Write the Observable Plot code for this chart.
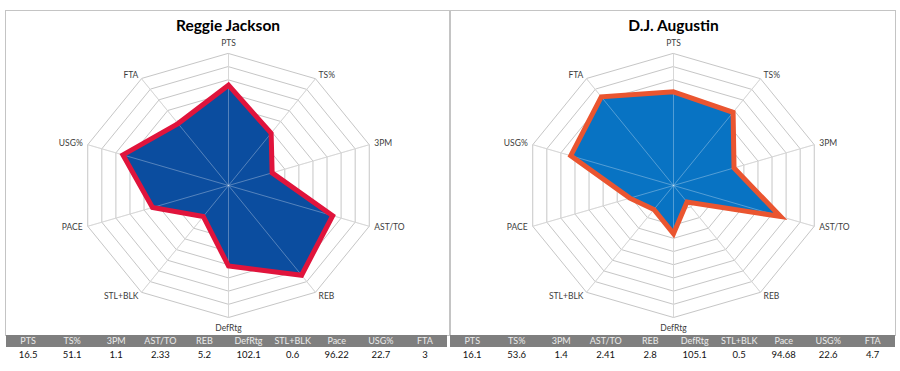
<!DOCTYPE html>
<html><head><meta charset="utf-8">
<script src="https://cdn.jsdelivr.net/npm/d3@7"></script>
<script src="https://cdn.jsdelivr.net/npm/@observablehq/plot@0.6"></script>
<style>
body{margin:0;background:#fff;font-family:Lato,"Open Sans",sans-serif;}
#root{position:relative;width:900px;height:371px;overflow:hidden;}
.panel{position:absolute;box-sizing:border-box;border:1px solid #c4c4c4;background:#fff;}
.panel svg{display:block;}
.tbl{position:absolute;display:grid;grid-template-columns:repeat(10,1fr);}
.hdr{background:#7f7f7f;color:#ececec;font-size:9px;text-align:center;height:12px;line-height:12px;}
.val{font-size:9.5px;text-align:center;color:#111;height:14px;line-height:15px;}
</style></head><body><div id="root"></div>
<script>
// Radar axes (clockwise from top)
const axes = ["PTS","TS%","3PM","AST/TO","REB","DefRtg","STL+BLK","PACE","USG%","FTA"];
const ringLevels = [0.1,0.2,0.3,0.4,0.5,0.6,0.7,0.8,0.9,1.0];
// Normalised radar values
const reggieRadar   = [0.76,0.49,0.31,0.74,0.84,0.61,0.29,0.54,0.75,0.58];
const augustinRadar = [0.71,0.685,0.43,0.76,0.155,0.365,0.225,0.31,0.73,0.83];
// Table
const tableHeaders  = ["PTS","TS%","3PM","AST/TO","REB","DefRtg","STL+BLK","Pace","USG%","FTA"];
const reggieStats   = ["16.5","51.1","1.1","2.33","5.2","102.1","0.6","96.22","22.7","3"];
const augustinStats = ["16.1","53.6","1.4","2.41","2.8","105.1","0.5","94.68","22.6","4.7"];

function radar(name, vals, fill, stroke, w, h){
  const cx = 222, cy = 174, rx = 148, ry = 132;
  const n = axes.length;
  const ang = i => 2*Math.PI*i/n;
  const pt = (i,r) => ({x: r*Math.sin(ang(i)), y: r*Math.cos(ang(i))});
  const rings = ringLevels.flatMap(l => axes.map((a,i) => ({level:l, ...pt(i,l)})));
  const spokes = axes.map((a,i) => ({label:a, i, ...pt(i,1)}));
  const labels = axes.map((a,i) => {
    const s = Math.sin(ang(i)), c = Math.cos(ang(i));
    const off = (i % 5 === 0) ? 10.5 : 4.5;
    return {label:a, i, x: s + s*5.3/rx, y: c + c*off/ry};
  });
  const shape = vals.map((v,i) => pt(i,v));
  const lab = {x:"x", y:"y", text:"label", fontSize:8.5, fill:"#3c3c3c"};
  return Plot.plot({
    width:w, height:h, margin:0,
    x:{domain:[-cx/rx,(w-cx)/rx], axis:null},
    y:{domain:[-(h-cy)/ry, cy/ry], axis:null},
    style:{fontFamily:"Lato, sans-serif", background:"transparent", overflow:"visible"},
    marks:[
      Plot.line(rings, {x:"x", y:"y", z:"level", curve:"linear-closed", stroke:"#c6c6c6", strokeWidth:1}),
      Plot.link(spokes, {x1:d=>0, y1:d=>0, x2:"x", y2:"y", stroke:"#c6c6c6", strokeWidth:1}),
      Plot.line(shape, {x:"x", y:"y", curve:"linear-closed", fill, stroke:"none"}),
      Plot.link(spokes, {x1:d=>0, y1:d=>0, x2:"x", y2:"y", stroke:"#ffffff", strokeOpacity:0.3, strokeWidth:1}),
      Plot.line(shape, {x:"x", y:"y", curve:"linear-closed", stroke, strokeWidth:5, strokeLinejoin:"miter", strokeMiterlimit:4}),
      Plot.text(labels.filter(d => d.i % 5 === 0), {...lab, textAnchor:"middle"}),
      Plot.text(labels.filter(d => d.i > 0 && d.i < 5), {...lab, textAnchor:"start"}),
      Plot.text(labels.filter(d => d.i > 5), {...lab, textAnchor:"end"}),
      Plot.text([name], {frameAnchor:"top", lineAnchor:"middle", dy:15, fontSize:15.5, fontWeight:"bold", fill:"#000", text:d=>d})
    ]
  });
}

function panel(left, width, chart){
  const d = document.createElement("div");
  d.className = "panel";
  d.style.left = left + "px"; d.style.top = "10px";
  d.style.width = width + "px"; d.style.height = "326px";
  d.appendChild(chart);
  document.getElementById("root").appendChild(d);
}
function table(left, width, stats){
  const t = document.createElement("div");
  t.className = "tbl";
  t.style.left = left + "px"; t.style.top = "335px"; t.style.width = width + "px";
  tableHeaders.forEach(h => { const c = document.createElement("div"); c.className = "hdr"; c.textContent = h; t.appendChild(c); });
  stats.forEach(v => { const c = document.createElement("div"); c.className = "val"; c.textContent = v; t.appendChild(c); });
  document.getElementById("root").appendChild(t);
}

panel(5, 445, radar("Reggie Jackson", reggieRadar, "#0b4d9f", "#e0143c", 443, 324));
panel(450, 446, radar("D.J. Augustin", augustinRadar, "#0873c3", "#ea5530", 444, 324));
table(6, 441, reggieStats);
table(450, 445, augustinStats);
</script></body></html>
